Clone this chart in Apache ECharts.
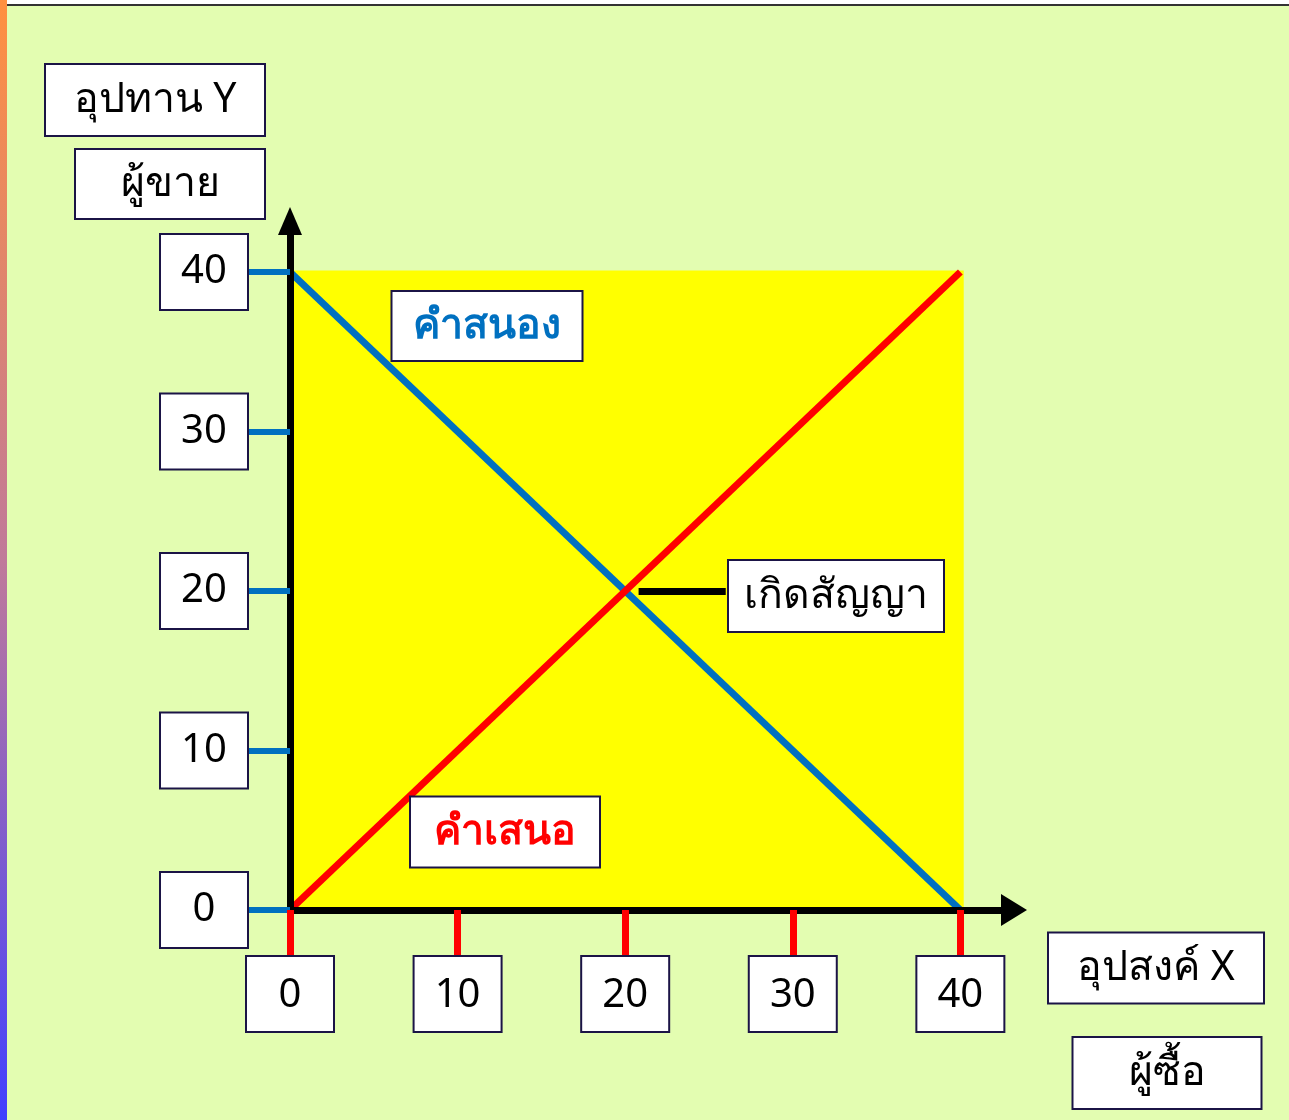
<!DOCTYPE html>
<html>
<head>
<meta charset="utf-8">
<script src="https://cdn.jsdelivr.net/npm/echarts@6/dist/echarts.min.js"></script>
<style>
  html, body { margin: 0; padding: 0; background: #fff; }
  #chart { width: 1289px; height: 1120px; }
</style>
</head>
<body>
<div id="chart"></div>
<script>
// axis ticks
const xTicks = [0, 10, 20, 30, 40];
const yTicks = [0, 10, 20, 30, 40];

// lines: [quantity X, price Y]
const offerLine = [[0, 0], [40, 40]];      // คำเสนอ (red)
const acceptLine = [[0, 40], [40, 0]];     // คำสนอง (blue)
const dealPoint = [20, 20];                // เกิดสัญญา

const font = '"Noto Sans", "DejaVu Sans", sans-serif';
const boxBorder = '#1b1446';

function box(text, cx, cy, w, h, color, bold) {
  return {
    type: 'text',
    x: cx,
    y: cy,
    z: 20,
    style: {
      text: text,
      fontSize: 41,
      fontFamily: font,
      fontWeight: bold ? 'bold' : 'normal',
      fill: color || '#000',
      align: 'center',
      verticalAlign: 'middle',
      backgroundColor: '#fff',
      borderColor: boxBorder,
      borderWidth: 2,
      width: w,
      height: h,
      lineHeight: h
    }
  };
}

const tickLabel = {
  fontSize: 40,
  fontFamily: font,
  color: '#000',
  backgroundColor: '#fff',
  borderColor: boxBorder,
  borderWidth: 2,
  width: 62,
  height: 50,
  lineHeight: 54,
  align: 'center',
  padding: [12, 12]
};

const chart = echarts.init(document.getElementById('chart'));
chart.setOption({
  backgroundColor: '#e3fdb1',
  animation: false,
  grid: { left: 290, right: 275, top: 221, bottom: 210, containLabel: false },
  xAxis: {
    type: 'value',
    min: 0,
    max: 43.2,
    z: 10,
    splitLine: { show: false },
    axisLine: {
      lineStyle: { color: '#000', width: 7 },
      symbol: ['none', 'triangle'],
      symbolSize: [32, 26]
    },
    axisTick: {
      customValues: xTicks,
      length: 45,
      lineStyle: { color: '#ff0000', width: 7 }
    },
    axisLabel: Object.assign({ customValues: xTicks, margin: 47 }, tickLabel)
  },
  yAxis: {
    type: 'value',
    min: 0,
    max: 43.2,
    z: 10,
    splitLine: { show: false },
    axisLine: {
      show: true,
      lineStyle: { color: '#000', width: 7 },
      symbol: ['none', 'triangle'],
      symbolSize: [24, 28]
    },
    axisTick: {
      show: true,
      customValues: yTicks,
      length: 42,
      lineStyle: { color: '#0070c0', width: 6 }
    },
    axisLabel: Object.assign({ customValues: yTicks, margin: 86 }, tickLabel)
  },
  series: [
    {
      name: 'คำสนอง',
      type: 'line',
      data: acceptLine,
      symbol: 'none',
      lineStyle: { color: '#0070c0', width: 7 },
      markArea: {
        silent: true,
        itemStyle: { color: '#ffff00' },
        data: [[{ coord: [0, 0] }, { coord: [40.2, 40.1] }]]
      },
      markLine: {
        silent: true,
        symbol: 'none',
        label: { show: false },
        lineStyle: { color: '#000', width: 7, type: 'solid' },
        data: [[{ coord: [dealPoint[0] + 0.8, dealPoint[1]] }, { coord: [26, dealPoint[1]] }]]
      }
    },
    {
      name: 'คำเสนอ',
      type: 'line',
      data: offerLine,
      symbol: 'none',
      lineStyle: { color: '#ff0000', width: 7 }
    }
  ],
  graphic: [
    { type: 'rect', left: 0, top: 0, shape: { width: 1289, height: 4 }, style: { fill: '#fff' }, z: 30 },
    { type: 'rect', left: 7, top: 4, shape: { width: 1282, height: 2 }, style: { fill: '#333' }, z: 30 },
    {
      type: 'rect', left: 0, top: 0, z: 31,
      shape: { width: 7, height: 1120 },
      style: {
        fill: new echarts.graphic.LinearGradient(0, 0, 0, 1, [
          { offset: 0, color: '#ff9040' },
          { offset: 0.5, color: '#c07a9a' },
          { offset: 1, color: '#4040ff' }
        ])
      }
    },
    box('อุปทาน Y', 155, 100, 218, 70),
    box('ผู้ขาย', 170, 184, 188, 68),
    box('คำสนอง', 487, 326, 189, 68, '#0070c0', true),
    box('คำเสนอ', 505, 832, 188, 69, '#ff0000', true),
    box('เกิดสัญญา', 836, 596, 214, 70),
    box('อุปสงค์ X', 1156, 968, 214, 69),
    box('ผู้ซื้อ', 1167, 1073, 187, 70)
  ]
});
</script>
</body>
</html>
